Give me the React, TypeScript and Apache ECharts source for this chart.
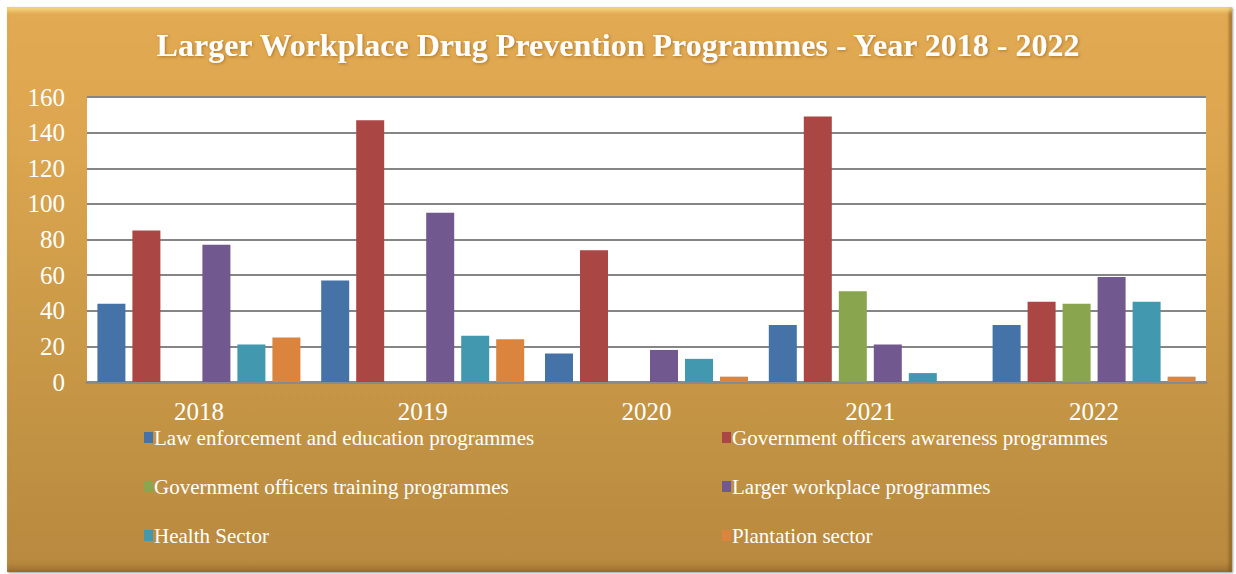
import React, { useEffect, useRef } from "react";
import * as echarts from "echarts";

const years = ["2018", "2019", "2020", "2021", "2022"];
const seriesNames = [
  "Law enforcement and education programmes",
  "Government officers awareness programmes",
  "Government officers training programmes",
  "Larger workplace programmes",
  "Health Sector",
  "Plantation sector",
];
const lawEnforcement = [44, 57, 16, 32, 32];
const govAwareness = [85, 147, 74, 149, 45];
const govTraining = [0, 0, 0, 51, 44];
const largerWorkplace = [77, 95, 18, 21, 59];
const healthSector = [21, 26, 13, 5, 45];
const plantationSector = [25, 24, 3, 0, 3];
const colors = ["#4572A7", "#AA4643", "#89A54E", "#71588F", "#4198AF", "#DB843D"];
const yTicks = { min: 0, max: 160, interval: 20 };

const serif = "'Liberation Serif', 'Times New Roman', serif";

export default function App() {
  const ref = useRef<HTMLDivElement>(null);
  useEffect(() => {
    if (!ref.current) return;
    const chart = echarts.init(ref.current, undefined, { renderer: "svg" });
    const values = [lawEnforcement, govAwareness, govTraining, largerWorkplace, healthSector, plantationSector];
    const series = values.map((v, i) => ({
      name: seriesNames[i],
      type: "bar",
      data: v,
      barWidth: 28,
      barGap: "25%",
      itemStyle: { color: colors[i], borderWidth: 0 },
    }));
    const legendCommon = {
      orient: "vertical",
      itemWidth: 9,
      itemHeight: 11,
      icon: "rect",
      itemGap: 28,
      padding: 0,
      itemStyle: { borderWidth: 0 },
      textStyle: { color: "#fff", fontFamily: serif, fontSize: 21, lineHeight: 18, padding: [0, 0, 0, -4] },
    };
    chart.setOption({
      animation: false,
      backgroundColor: "transparent",
      color: colors,
      title: {
        text: "Larger Workplace Drug Prevention Programmes - Year 2018 - 2022",
        left: "center",
        top: 24,
        textStyle: {
          color: "#fff",
          fontFamily: serif,
          fontWeight: "bold",
          fontSize: 32,
          textShadowColor: "rgba(120,70,0,0.5)",
          textShadowBlur: 3,
          textShadowOffsetX: 1,
          textShadowOffsetY: 1,
        },
      },
      legend: [
        { ...legendCommon, left: 144, top: 427, data: [seriesNames[0], seriesNames[2], seriesNames[4]] },
        { ...legendCommon, left: 722, top: 427, data: [seriesNames[1], seriesNames[3], seriesNames[5]] },
      ],
      grid: {
        left: 87,
        right: 30,
        top: 97,
        bottom: 192,
        show: true,
        backgroundColor: "#ffffff",
        borderWidth: 0,
      },
      xAxis: {
        type: "category",
        data: years,
        axisLine: { show: true, lineStyle: { color: "#8a8a8a", width: 3 } },
        axisTick: { show: false },
        axisLabel: { color: "#fff", fontFamily: serif, fontSize: 25, lineHeight: 20, margin: 19 },
      },
      yAxis: {
        type: "value",
        min: yTicks.min,
        max: yTicks.max,
        interval: yTicks.interval,
        axisLine: { show: false },
        axisTick: { show: false },
        axisLabel: { color: "#fff", fontFamily: serif, fontSize: 25, margin: 22 },
        splitLine: { lineStyle: { color: "#858585", width: 2 } },
      },
      series,
    });
    return () => chart.dispose();
  }, []);
  return (
    <div style={{ position: "absolute", left: 0, top: 0, width: 1236, height: 574, background: "#fff" }}>
      <div
        style={{
          position: "absolute",
          left: 7,
          top: 7,
          width: 1225,
          height: 565,
          background: "linear-gradient(180deg, #E2AA52 0%, #DCA54F 25%, #C99947 60%, #B8893F 100%)",
          boxShadow:
            "inset 0 6px 4px -2px rgba(255,235,150,0.7), inset 0 -8px 6px -3px rgba(110,70,20,0.35), inset -3px 0 3px rgba(110,70,20,0.5), 1px 1px 2px rgba(0,0,0,0.4)",
        }}
      />
      <div ref={ref} style={{ position: "absolute", left: 0, top: 0, width: 1236, height: 574 }} />
    </div>
  );
}
